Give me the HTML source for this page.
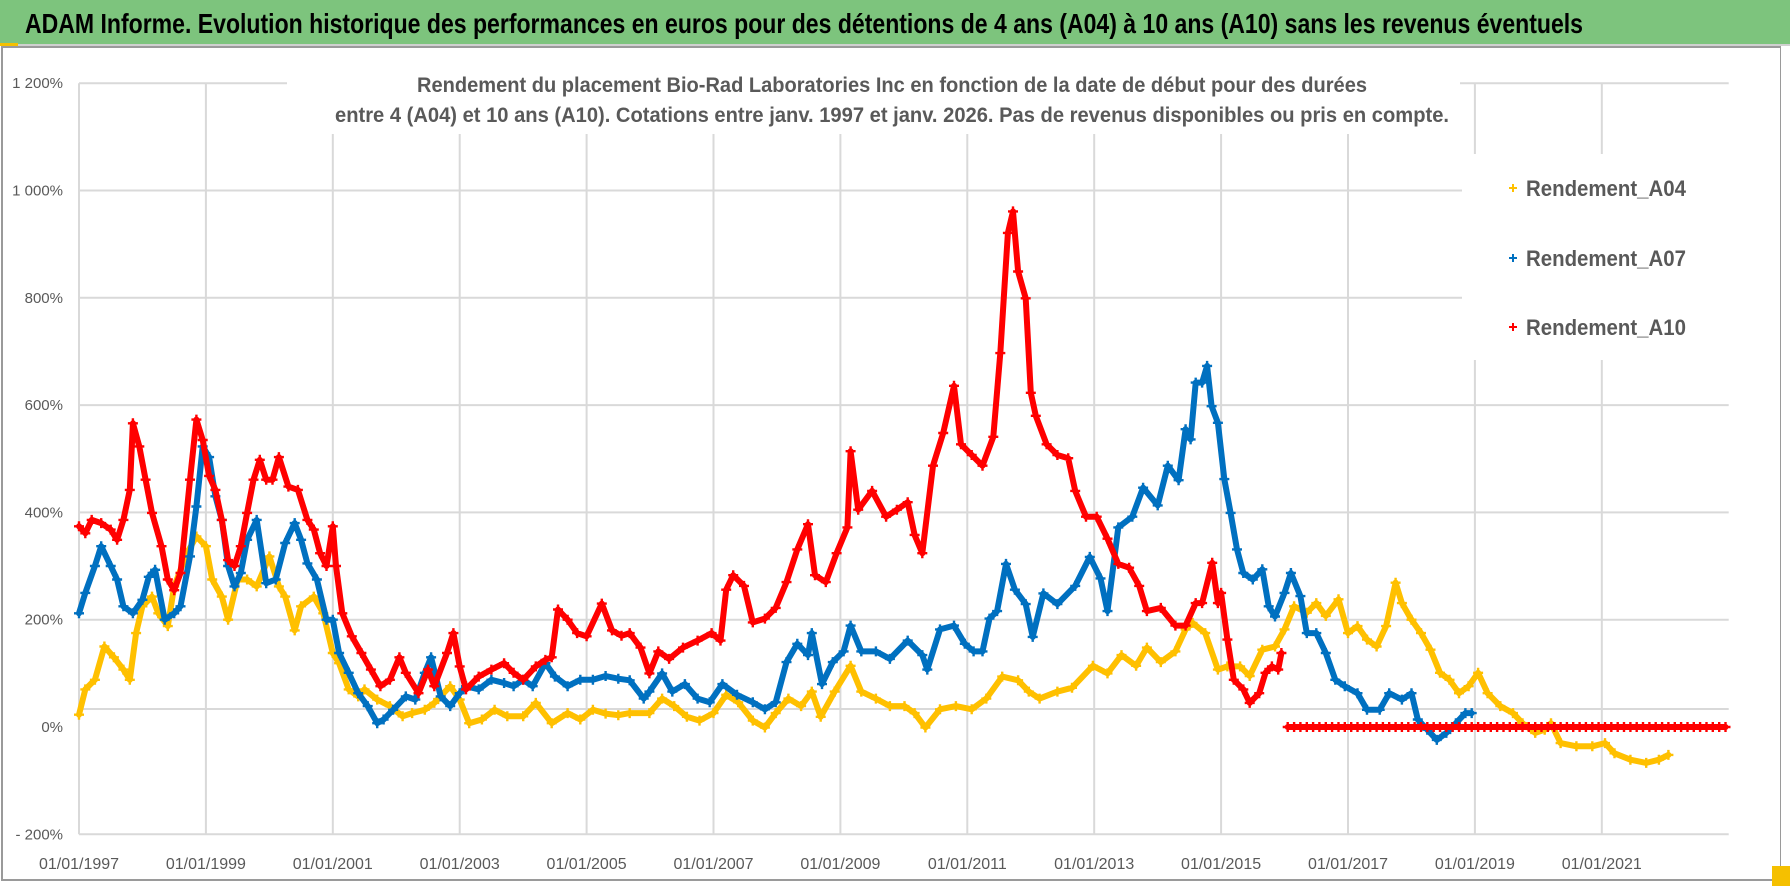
<!DOCTYPE html>
<html><head><meta charset="utf-8">
<style>
html,body{margin:0;padding:0;background:#fff;}
svg{display:block;}
text{font-family:"Liberation Sans Narrow","Liberation Sans",sans-serif;}
</style></head>
<body>
<svg id="chart" width="1790" height="886" viewBox="0 0 1790 886" xmlns="http://www.w3.org/2000/svg">
  <rect x="0" y="0" width="1790" height="44" fill="#7DC47D"/>
  <line x1="0" y1="45" x2="1790" y2="45" stroke="#d0d0d0" stroke-width="2"/>
  <rect x="0" y="43" width="18" height="3" fill="#f5c000"/>
  <text x="25" y="33" font-size="28" font-weight="bold" fill="#000" textLength="1558" lengthAdjust="spacingAndGlyphs">ADAM Informe. Evolution historique des performances en euros pour des détentions de 4 ans (A04) à 10 ans (A10) sans les revenus éventuels</text>
  <rect x="2" y="47" width="1779" height="833" fill="none" stroke="#9a9a9a" stroke-width="2"/>
  <rect x="1772" y="866" width="18" height="20" fill="#f5c000"/>
  <rect x="1781" y="46" width="9" height="820" fill="#fff"/>
  <g id="grid"></g>
  <g id="yaxis"></g>
  <g id="xaxis"></g>
  <g id="series"></g>
  <rect x="287" y="62" width="1173" height="72" fill="#fff"/>
  <text x="892" y="92" text-anchor="middle" font-size="21" font-weight="bold" fill="#595959" textLength="950" lengthAdjust="spacingAndGlyphs">Rendement du placement Bio-Rad Laboratories Inc en fonction de la date de début pour des durées</text>
  <text x="892" y="122" text-anchor="middle" font-size="21" font-weight="bold" fill="#595959" textLength="1114" lengthAdjust="spacingAndGlyphs">entre 4 (A04) et 10 ans (A10).  Cotations entre janv. 1997 et janv. 2026. Pas de revenus disponibles ou pris en compte.</text>
  <g>
    <rect x="1462" y="154" width="268" height="206" fill="#fff"/>
    <g>
      <path d="M1509 188h8M1513 184v8" stroke="#FFC000" stroke-width="2"/>
      <text x="1526" y="196" font-size="22" font-weight="bold" fill="#595959" textLength="160" lengthAdjust="spacingAndGlyphs">Rendement_A04</text>
    </g>
    <g>
      <path d="M1509 258h8M1513 254v8" stroke="#0070C0" stroke-width="2"/>
      <text x="1526" y="266" font-size="22" font-weight="bold" fill="#595959" textLength="160" lengthAdjust="spacingAndGlyphs">Rendement_A07</text>
    </g>
    <g>
      <path d="M1509 327h8M1513 323v8" stroke="#FF0000" stroke-width="2"/>
      <text x="1526" y="335" font-size="22" font-weight="bold" fill="#595959" textLength="160" lengthAdjust="spacingAndGlyphs">Rendement_A10</text>
    </g>
  </g>
</svg>
<script>
// ---- data ----
const yTicks = [1200, 1000, 800, 600, 400, 200, 0, -200];
const yTickLabels = ["1 200%", "1 000%", "800%", "600%", "400%", "200%", "0%", "- 200%"];
const xTickYears = [1997, 1999, 2001, 2003, 2005, 2007, 2009, 2011, 2013, 2015, 2017, 2019, 2021];
const xTickLabels = ["01/01/1997","01/01/1999","01/01/2001","01/01/2003","01/01/2005","01/01/2007","01/01/2009","01/01/2011","01/01/2013","01/01/2015","01/01/2017","01/01/2019","01/01/2021"];

const a04Dates = [1997.0,1997.1,1997.25,1997.4,1997.55,1997.7,1997.8,1997.9,1998.0,1998.15,1998.25,1998.4,1998.5,1998.7,1998.85,1999.0,1999.1,1999.25,1999.35,1999.5,1999.65,1999.8,2000.0,2000.15,2000.25,2000.4,2000.5,2000.7,2000.85,2001.0,2001.1,2001.25,2001.4,2001.5,2001.7,2001.9,2002.1,2002.25,2002.45,2002.6,2002.85,2003.0,2003.15,2003.35,2003.55,2003.75,2004.0,2004.2,2004.45,2004.7,2004.9,2005.1,2005.3,2005.5,2005.68,2005.99,2006.19,2006.38,2006.58,2006.78,2007.0,2007.2,2007.39,2007.62,2007.81,2007.98,2008.18,2008.38,2008.55,2008.69,2008.91,2009.16,2009.33,2009.56,2009.78,2010.01,2010.17,2010.34,2010.57,2010.82,2011.07,2011.3,2011.55,2011.8,2011.97,2012.14,2012.42,2012.65,2012.98,2013.21,2013.43,2013.66,2013.83,2014.05,2014.28,2014.44,2014.55,2014.75,2014.95,2015.1,2015.3,2015.45,2015.65,2015.85,2016.0,2016.15,2016.35,2016.5,2016.65,2016.85,2017.0,2017.15,2017.3,2017.45,2017.6,2017.75,2017.85,2018.0,2018.15,2018.3,2018.45,2018.6,2018.75,2018.9,2019.05,2019.2,2019.4,2019.6,2019.75,2019.95,2020.1,2020.2,2020.35,2020.6,2020.85,2021.05,2021.2,2021.45,2021.7,2021.9,2022.05];
const a04Values = [23,70,88,150,130,107,88,175,225,243,212,188,262,324,355,337,275,243,200,275,275,262,318,262,243,180,225,243,212,138,119,70,57,70,51,39,20,26,32,45,76,51,7,14,32,20,20,45,7,26,14,32,25,22,26,26,53,39,19,12,26,60,46,12,-1,26,53,39,66,19,66,114,66,53,39,39,26,-1,33,39,33,53,94,87,66,53,66,73,114,100,134,114,148,121,141,182,194,175,107,113,113,95,144,150,182,225,213,231,207,238,175,188,163,150,188,269,231,200,175,144,101,88,63,76,101,63,39,26,7,-11,-5,7,-30,-36,-36,-30,-49,-61,-67,-61,-52];

const a07Dates = [1997.0,1997.1,1997.25,1997.35,1997.5,1997.6,1997.7,1997.85,1998.0,1998.1,1998.2,1998.35,1998.5,1998.6,1998.75,1998.85,1998.95,1999.05,1999.15,1999.25,1999.35,1999.45,1999.55,1999.65,1999.8,1999.95,2000.1,2000.25,2000.4,2000.5,2000.6,2000.75,2000.9,2001.0,2001.1,2001.25,2001.4,2001.55,2001.7,2001.8,2001.95,2002.15,2002.3,2002.45,2002.55,2002.7,2002.85,2003.0,2003.1,2003.3,2003.5,2003.7,2003.85,2004.0,2004.15,2004.35,2004.5,2004.7,2004.9,2005.1,2005.3,2005.5,2005.68,2005.9,2005.99,2006.19,2006.35,2006.55,2006.75,2006.94,2007.14,2007.37,2007.62,2007.81,2007.98,2008.15,2008.32,2008.49,2008.55,2008.71,2008.88,2009.05,2009.16,2009.33,2009.56,2009.78,2010.06,2010.29,2010.37,2010.57,2010.79,2010.96,2011.1,2011.24,2011.35,2011.47,2011.61,2011.75,2011.92,2012.03,2012.2,2012.42,2012.7,2012.93,2013.1,2013.21,2013.38,2013.6,2013.77,2014.0,2014.16,2014.33,2014.44,2014.52,2014.6,2014.7,2014.78,2014.85,2014.95,2015.05,2015.15,2015.25,2015.35,2015.5,2015.65,2015.75,2015.85,2016.0,2016.1,2016.25,2016.35,2016.5,2016.65,2016.8,2016.95,2017.15,2017.3,2017.5,2017.65,2017.85,2018.0,2018.1,2018.25,2018.4,2018.55,2018.7,2018.85,2018.95];
const a07Values = [212,250,300,337,300,275,225,212,237,280,293,200,212,225,318,411,523,503,430,386,300,262,287,349,386,268,275,343,380,349,305,275,200,200,138,101,63,39,7,14,32,57,51,101,130,57,39,63,76,70,88,82,76,88,76,119,94,76,88,88,95,90,87,53,66,100,66,80,53,46,80,60,46,33,46,121,155,134,175,80,121,141,189,141,141,127,161,134,107,182,189,155,141,141,202,216,304,256,229,168,249,229,263,317,277,216,372,392,446,413,487,460,555,536,642,642,673,598,567,462,399,331,287,275,294,225,206,250,287,244,175,175,138,88,76,63,32,32,63,51,63,14,-5,-24,-11,7,26,26];

const a10Dates = [1997.0,1997.1,1997.2,1997.35,1997.5,1997.6,1997.7,1997.8,1997.85,1997.95,1998.05,1998.15,1998.3,1998.4,1998.5,1998.6,1998.75,1998.85,1998.95,1999.05,1999.15,1999.25,1999.35,1999.45,1999.55,1999.65,1999.75,1999.85,1999.95,2000.05,2000.15,2000.3,2000.45,2000.6,2000.7,2000.8,2000.9,2001.0,2001.05,2001.15,2001.3,2001.45,2001.6,2001.75,2001.9,2002.05,2002.15,2002.35,2002.5,2002.6,2002.8,2002.9,2003.0,2003.1,2003.3,2003.5,2003.7,2003.85,2004.0,2004.2,2004.35,2004.45,2004.55,2004.7,2004.85,2005.0,2005.24,2005.4,2005.55,2005.68,2005.85,2005.99,2006.13,2006.3,2006.52,2006.75,2006.97,2007.11,2007.2,2007.31,2007.48,2007.62,2007.81,2007.98,2008.15,2008.32,2008.49,2008.6,2008.77,2008.94,2009.11,2009.16,2009.28,2009.5,2009.72,2009.89,2010.06,2010.17,2010.29,2010.46,2010.62,2010.79,2010.9,2011.07,2011.24,2011.41,2011.52,2011.64,2011.72,2011.8,2011.92,2012.0,2012.08,2012.25,2012.42,2012.59,2012.7,2012.87,2013.04,2013.21,2013.38,2013.55,2013.71,2013.83,2014.05,2014.28,2014.44,2014.6,2014.7,2014.86,2014.95,2015.0,2015.1,2015.2,2015.35,2015.45,2015.6,2015.7,2015.8,2015.9,2015.95,
2016.05,2016.15,2016.25,2016.35,2016.45,2016.55,2016.65,2016.75,2016.85,2016.95,2017.05,2017.15,2017.25,2017.35,2017.45,2017.55,2017.65,2017.75,2017.85,2017.95,2018.05,2018.15,2018.25,2018.35,2018.45,2018.55,2018.65,2018.75,2018.85,2018.95,2019.05,2019.15,2019.25,2019.35,2019.45,2019.55,2019.65,2019.75,2019.85,2019.95,2020.05,2020.15,2020.25,2020.35,2020.45,2020.55,2020.65,2020.75,2020.85,2020.95,2021.05,2021.15,2021.25,2021.35,2021.45,2021.55,2021.65,2021.75,2021.85,2021.95,2022.05,2022.15,2022.25,2022.35,2022.45,2022.55,2022.65,2022.75,2022.85,2022.95];
const a10Values = [374,361,386,380,368,349,386,442,566,523,461,399,337,275,255,287,461,573,535,468,442,386,311,300,337,399,461,498,461,461,503,448,442,386,368,324,300,374,300,212,169,138,107,76,88,130,101,63,107,76,138,175,113,70,94,107,119,101,88,113,125,130,219,200,175,169,230,180,170,175,148,100,141,127,148,161,175,161,256,283,263,195,202,222,270,331,378,283,270,324,372,514,405,440,392,405,419,358,324,487,548,636,527,507,487,541,697,921,961,849,799,623,580,527,507,501,440,392,392,351,304,297,263,216,222,189,189,231,231,306,231,250,163,88,70,45,63,101,113,107,138,
0,0,0,0,0,0,0,0,0,0,0,0,0,0,0,0,0,0,0,0,0,0,0,0,0,0,0,0,0,0,0,0,0,0,0,0,0,0,0,0,0,0,0,0,0,0,0,0,0,0,0,0,0,0,0,0,0,0,0,0,0,0,0,0,0,0,0,0,0,0];

// ---- axes ----
const NS = "http://www.w3.org/2000/svg";
const X0 = 79, PX_PER_YEAR = 63.45, Y0 = 727, PX_PER_PCT = 0.5365;
function xScale(year){ return X0 + (year - 1997) * PX_PER_YEAR; }
function yScale(v){ return Y0 - v * PX_PER_PCT; }
function mk(tag, attrs, parent){ const e = document.createElementNS(NS, tag); for (const k in attrs) e.setAttribute(k, attrs[k]); parent.appendChild(e); return e; }

const grid = document.getElementById('grid');
const yaxis = document.getElementById('yaxis');
const xaxis = document.getElementById('xaxis');
const right = xScale(2023);

yTicks.forEach((t, i) => {
  let gy = yScale(t);
  if (t === 0) gy = 709;
  const ln = mk('line', {x1: X0, x2: right, y1: gy, y2: gy, stroke: '#d9d9d9', 'stroke-width': 2}, grid);
  
  
  const lb = mk('text', {x: 63, y: yScale(t) + 5, 'text-anchor': 'end', 'font-size': 15, fill: '#595959'}, yaxis);
  
  
  lb.textContent = yTickLabels[i];
});
xTickYears.forEach((yr, i) => {
  const gx = xScale(yr);
  const ln = mk('line', {x1: gx, x2: gx, y1: yScale(1200), y2: yScale(-200), stroke: '#d9d9d9', 'stroke-width': 2}, grid);
  
  
  const lb = mk('text', {x: gx, y: 869, 'text-anchor': 'middle', 'font-size': 16, fill: '#595959'}, xaxis);
  
  
  lb.textContent = xTickLabels[i];
});

// ---- series ----
const seriesLayer = document.getElementById('series');
function drawSeries(dates, values, color, name){
  const g = mk('g', {}, seriesLayer);
  
  
  let pts = [];
  let d = '';
  for (let i = 0; i < dates.length; i++){
    const x = xScale(dates[i]), y = yScale(values[i]);
    pts.push(x.toFixed(1) + ',' + y.toFixed(1));
    d += 'M' + (x-5).toFixed(1) + ' ' + y.toFixed(1) + 'h10M' + x.toFixed(1) + ' ' + (y-5).toFixed(1) + 'v10';
  }
  const pl = mk('polyline', {points: pts.join(' '), fill: 'none', stroke: color, 'stroke-width': 6, 'stroke-linejoin': 'round', 'stroke-linecap': 'round'}, g);
  
  
  const mp = mk('path', {d: d, stroke: color, 'stroke-width': 2.4, fill: 'none'}, g);
  
  
}
drawSeries(a04Dates, a04Values, '#FFC000', 'series-a04');
drawSeries(a07Dates, a07Values, '#0070C0', 'series-a07');
// A10 drawn in two runs (before 2016 and the flat zero run) to avoid a connecting stroke
const splitIdx = a10Dates.findIndex(d => d >= 2016);
drawSeries(a10Dates.slice(0, splitIdx), a10Values.slice(0, splitIdx), '#FF0000', 'series-a10');
drawSeries(a10Dates.slice(splitIdx), a10Values.slice(splitIdx), '#FF0000', 'series-a10-late');
</script>
</body></html>
